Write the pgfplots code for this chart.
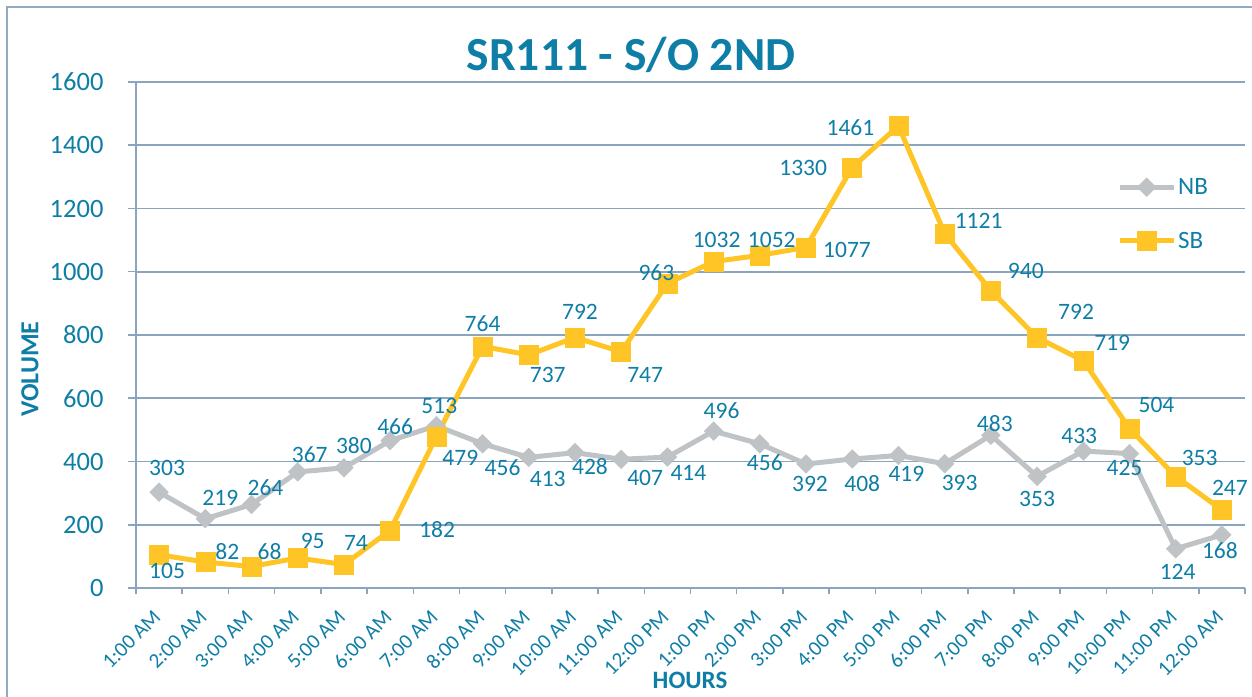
\documentclass[border=0pt]{standalone}
\usepackage{pgfplots}
\pgfplotsset{compat=1.18}
\usepackage{pgfplotstable}
\usepackage{fontspec}
\setmainfont{Carlito}
\definecolor{textc}{HTML}{0F7EA6}
\definecolor{gridc}{HTML}{8BA5BE}
\definecolor{framec}{HTML}{8FAAC2}
\definecolor{nbc}{HTML}{BFC3C5}
\definecolor{sbc}{HTML}{FFC425}

\pgfplotstableread{
x y dx dy
1 303 8 24
2 219 15 21
3 264 14 17
4 367 12 17
5 380 10 22
6 466 5 14
7 513 3 20
8 456 20 -24
9 413 19 -22
10 428 15 -14
11 407 24 -19
12 414 21 -16
13 496 8 20
14 456 5 -19
15 392 4 -20
16 408 10 -25
17 419 8 -18
18 393 15 -19
19 483 4 12
20 353 0 -23
21 433 -4 15
22 425 -5 -14
23 124 2 -23
24 168 -2 -16
}\nbdata

\pgfplotstableread{
x y dx dy
1 105 8 -16
2 82 22 11
3 68 18 15
4 95 15 17
5 74 12 22
6 182 47 1
7 479 24 -21
8 764 0 23
9 737 19 -20
10 792 5 26
11 747 24 -23
12 963 -11 11
13 1032 3 22
14 1052 12 15
15 1077 41 -3
16 1330 -49 -1
17 1461 -48 -2
18 1121 34 13
19 940 35 20
20 792 39 26
21 719 29 18
22 504 27 24
23 353 24 18
24 247 8 22
}\sbdata

\begin{document}
\begin{tikzpicture}
\path[use as bounding box] (0,0) rectangle (1252pt,696pt);
\draw[framec, line width=2.5pt] (7pt,-20pt) rectangle (1290pt,689pt);
\begin{axis}[
  at={(136pt,108pt)}, anchor=south west,
  scale only axis, width=1109pt, height=506pt,
  xmin=0.5, xmax=24.5, ymin=0, ymax=1600,
  clip=false,
  axis lines*=left,
  axis line style={gridc, line width=1.8pt},
  ymajorgrids, major grid style={gridc, line width=1.8pt},
  ytick={0,200,...,1600},
  xtick={1,...,24},
  xticklabels={1:00 AM,2:00 AM,3:00 AM,4:00 AM,5:00 AM,6:00 AM,7:00 AM,8:00 AM,9:00 AM,10:00 AM,11:00 AM,12:00 PM,1:00 PM,2:00 PM,3:00 PM,4:00 PM,5:00 PM,6:00 PM,7:00 PM,8:00 PM,9:00 PM,10:00 PM,11:00 PM,12:00 AM},
  minor xtick={0.5,1.5,...,24.5},
  tick align=outside,
  major tick length=8pt, minor tick length=6pt,
  major x tick style={draw=none},
  minor x tick style={gridc, line width=1.5pt},
  ytick style={gridc, line width=1.5pt},
  /pgf/number format/assume math mode=true,
  /pgf/number format/1000 sep={},
  yticklabel style={font=\fontsize{26.5}{31}\selectfont, text=textc, anchor=east, xshift=-21pt},
  xticklabel style={font=\fontsize{21}{25}\selectfont, text=textc, anchor=north east, xshift=-7pt, yshift=-8pt, rotate=45},
  title={\bfseries SR111 - S/O 2ND},
  title style={font=\fontsize{47.5}{55}\selectfont, text=textc, at={(axis description cs:0.4463,1.0099)}, anchor=base},
  ylabel={\bfseries VOLUME},
  ylabel style={font=\fontsize{26}{30}\selectfont, text=textc, at={(axis description cs:-0.0956,0.4328)}, anchor=center},
  xlabel={\bfseries HOURS},
  xlabel style={font=\fontsize{25}{30}\selectfont, text=textc, at={(axis description cs:0.4996,-0.1818)}, anchor=center},
  legend style={draw=none, fill=none, at={(axis description cs:0.8846,0.739)}, anchor=west, inner sep=0pt, row sep=32pt,
    font=\fontsize{25}{30}\selectfont, text=textc, nodes={inner sep=2pt}},
  legend cell align=left,
  legend image code/.code={\draw[mark repeat=2,mark phase=2,#1] plot coordinates {(0pt,0pt)(27pt,0pt)(54pt,0pt)};},
  point meta=explicit symbolic,
  nodes near coords,
  visualization depends on={\thisrow{dx} \as \dx},
  visualization depends on={\thisrow{dy} \as \dy},
  every node near coord/.append style={font=\fontsize{23.5}{28}\selectfont, text=textc, anchor=center, xshift=\dx pt, yshift=\dy pt},
]
\addplot[nbc, line width=5pt, mark=square*, mark size=6.6pt, mark options={solid, line width=0.5pt, rotate=45, fill=nbc}]
  table[x=x, y=y, meta=y] {\nbdata};
\addlegendentry{NB}
\addplot[sbc, line width=5pt, mark=square*, mark size=9.5pt, mark options={solid, line width=0.5pt, fill=sbc}]
  table[x=x, y=y, meta=y] {\sbdata};
\addlegendentry{SB}
\end{axis}
\end{tikzpicture}
\end{document}
